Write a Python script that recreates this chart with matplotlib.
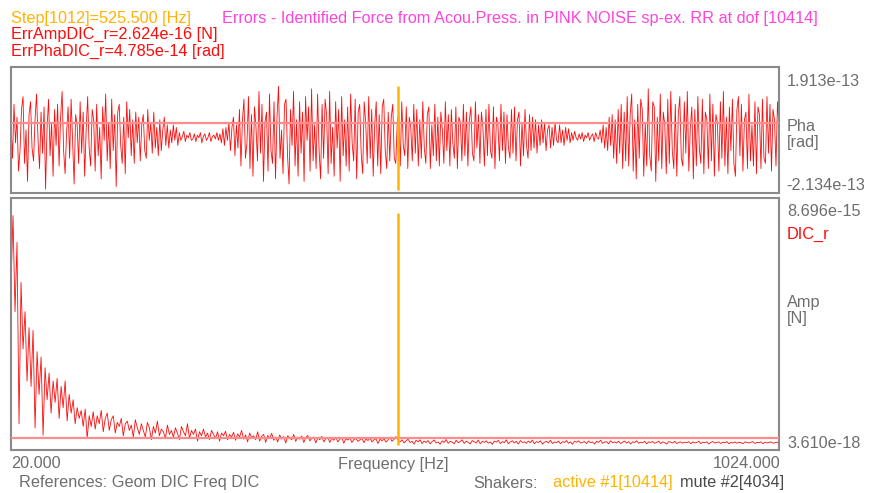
import numpy as np
import matplotlib
matplotlib.use("Agg")
import matplotlib.pyplot as plt

plt.rcParams['font.family'] = ['Liberation Sans', 'DejaVu Sans']

# ---------------- data ----------------
f_min, f_max = 20.0, 1024.0
step_freq = 525.5
pha_max, pha_min = 1.913e-13, -2.134e-13
amp_max, amp_min = 8.696e-15, 3.610e-18
err_amp = 2.624e-16
err_pha = 4.785e-14

# phase error (units of 1e-14 rad)
pha_vals = [
    4, -9, 12, -3, 7, -14, -6, 10, 15, -11, 2, -18, 8, 13, -5, -10,
    6, 16, -2, -13, 9, -7, 11, -21, 3, 14, -8, 5, -16, 10, -4, 12,
    -12, 7, 17, -6, -15, 1, 11, -9, 14, -3, -19, 8, 4, -11, 13, -7,
    9, -16, 2, 15, -5, -12, 10, 6, -14, 12, -8, 3, -17, 11, -2, 16,
    -10, 5, -13, 14, -6, 8, -20, 9, 12, -4, -11, 7, -15, 13, -1, 10,
    -8, 6, -11, 9, -3, 7, -10, 4, 8, -6, -9, 10, -2, 5, -7, 9,
    -5, 3, -8, 6, -6, 2, 7, -4, 4, -5, 2, -3, 4, -2, 3, -4,
    1, -2, -0.5, 1.5, -2.5, 0, -1, 1, -2, -1.5, 0.5, -2.5, 0, -1, 1, -3,
    -0.5, 0.5, -2, -1, 1, -2.5, -0.5, 0, -1.5, 1, -2, 0.5, -3, 2.5, -4, 3,
    -2, 5, -6, 3, 7, -8, 4, -5, 10, -12, 6, 14, -9, -3, 15, -13,
    8, -16, 11, 3, -10, 17, -7, 12, -18, 5, 9, -14, 16, -6, -11, 13,
    -17, 7, 19, -9, 2, -15, 12, 14, -8, -19, 10, -4, 17, -12, 6, -16,
    13, -7, 9, -18, 15, -2, 11, -14, 18, -10, 4, -13, 16, -6, -17, 12,
    -9, 14, 8, -15, 17, -11, 3, -16, 13, -5, 10, -18, 15, -8, 6, -12,
    11, -14, 16, -3, -10, 14, -17, 9, 12, -7, -15, 13, 5, -11, 15, -9,
    10, -16, 4, 13, -12, 8, -15, 11, 14, -6, -13, 9, -10, 7, 12, -9,
    -11, 5, 9, -12, 13, -4, -8, 11, -13, 7, 3, -10, 12, -7, 10, -12,
    6, -9, 13, -5, -11, 8, 11, -13, 4, -8, 12, -10, 7, -12, 9, 2,
    -11, 13, -6, 8, -12, 10, -3, -9, 11, -13, 7, 5, -10, 12, -8, 9,
    -12, 6, 11, -7, -10, 13, -5, 8, -11, 9, 3, -12, 10, -8, 12, -6,
    -9, 11, -13, 7, 4, -10, 12, -6, 9, -11, 8, -5, -9, 10, -7, 11,
    -10, 6, 9, -12, 5, -8, 10, -4, -9, 8, -6, 7, -5, 6, -7, 4,
    -4, 6, -3, 5, -6, 2, 4, -5, 3, -4, 5, -2, -3, 4, -3, 2,
    -4, 3, -2, 2.5, -3, 1, -2, 1.5, -1, -2, 0.5, -1.5, 1, -2.5, 0, -1,
    1, -2, -0.5, 0.5, -2.5, 1, -1, -1.5, 2, -3, 4, -5, 3, -6, 7, -4,
    8, -9, 6, -11, 10, -7, 12, -13, 9, -10, 15, -12, 8, 16, -14, 6,
    -17, 12, -9, 14, 10, -16, 5, -12, 18, -8, -14, 13, 11, -18, 7, -10,
    16, -13, 9, 4, -15, 14, -11, 17, -6, -13, 12, -16, 8, 15, -9, -12,
    13, -7, 17, -14, 3, 11, -17, 10, -12, 15, -5, -11, 14, -15, 9, 6,
    -13, 16, -10, 12, -16, 8, 5, -14, 13, -9, 17, -12, 7, -15, 11, -6,
    14, -11, -16, 10, 15, -8, 12, -14, 6, 9, -13, 16, -10, 4, -12, 13,
    -15, 11, 8, -13, 14, -9, -11, 15, -7, 12, -14, 10, 6, -12, 13, 3,
]

# amplitude error (units of 1e-15 N)
amp_vals = [
    6.0, 8.6, 5.0, 7.6, 0.8, 6.1, 3.6, 5.0, 2.4, 4.4, 2.2, 4.3, 0.64, 3.5, 1.9, 3.3,
    0.37, 2.9, 1.7, 2.7, 1.2, 2.4, 1.6, 2.5, 1.0, 2.2, 1.4, 2.4, 0.9, 1.9, 1.2, 1.7,
    0.8, 1.4, 1.0, 1.3, 0.7, 1.35, 0.26, 1.1, 0.7, 1.25, 0.6, 1.1, 0.8, 1.3, 0.5, 1.0,
    1.2, 0.55, 0.95, 1.1, 0.45, 0.85, 0.7, 1.0, 0.35, 0.8, 0.9, 0.55, 0.75, 0.3, 0.95, 0.65,
    0.4, 0.8, 0.55, 0.3, 0.85, 0.65, 0.2, 0.7, 0.45, 0.9, 0.35, 0.6, 0.5, 0.25, 0.75, 0.4,
    0.55, 0.3, 0.65, 0.45, 0.2, 0.7, 0.5, 0.35, 0.8, 0.25, 0.55, 0.4, 0.6, 0.15, 0.5, 0.35,
    0.6, 0.3, 0.45, 0.2, 0.55, 0.4, 0.25, 0.5, 0.15, 0.45, 0.35, 0.52, 0.2, 0.4, 0.3, 0.48,
    0.18, 0.42, 0.3, 0.55, 0.22, 0.38, 0.12, 0.45, 0.28, 0.35, 0.2, 0.5, 0.15, 0.33, 0.4, 0.1,
    0.36, 0.25, 0.44, 0.18, 0.3, 0.12, 0.38, 0.22, 0.32, 0.08, 0.35, 0.26, 0.2, 0.4, 0.14, 0.3,
    0.22, 0.34, 0.1, 0.28, 0.36, 0.16, 0.25, 0.3, 0.08, 0.27, 0.2, 0.33, 0.12, 0.24, 0.29, 0.1,
    0.26, 0.18, 0.3, 0.12, 0.22, 0.27, 0.07, 0.24, 0.19, 0.28, 0.1, 0.21, 0.25, 0.14, 0.2, 0.26,
    0.09, 0.23, 0.17, 0.27, 0.12, 0.2, 0.24, 0.06, 0.22, 0.16, 0.25, 0.11, 0.19, 0.3, 0.14, 0.22,
    0.32, 0.18, 0.12, 0.2, 0.08, 0.16, 0.22, 0.1, 0.14, 0.04, 0.18, 0.12, 0.2, 0.06, 0.15, 0.1,
    0.17, 0.05, 0.13, 0.19, 0.08, 0.12, 0.03, 0.16, 0.1, 0.21, 0.07, 0.14, 0.11, 0.05, 0.18, 0.09,
    0.13, 0.2, 0.06, 0.15, 0.1, 0.04, 0.17, 0.12, 0.08, 0.19, 0.05, 0.14, 0.1, 0.16, 0.07, 0.12,
    0.03, 0.15, 0.11, 0.18, 0.06, 0.13, 0.09, 0.2, 0.05, 0.12, 0.16, 0.08, 0.14, 0.04, 0.17, 0.1,
    0.12, 0.07, 0.15, 0.09, 0.19, 0.05, 0.13, 0.1, 0.16, 0.04, 0.11, 0.14, 0.08, 0.18, 0.06, 0.12,
    0.09, 0.15, 0.05, 0.13, 0.1, 0.17, 0.07, 0.12, 0.03, 0.14, 0.11, 0.16, 0.08, 0.1, 0.13, 0.06,
    0.15, 0.09, 0.12, 0.04, 0.14, 0.1, 0.18, 0.07, 0.11, 0.13, 0.05, 0.16, 0.09, 0.12, 0.08, 0.14,
    0.06, 0.11, 0.15, 0.08, 0.13, 0.04, 0.12, 0.1, 0.16, 0.07, 0.11, 0.09, 0.14, 0.05, 0.12, 0.1,
    0.13, 0.07, 0.1, 0.15, 0.06, 0.12, 0.09, 0.04, 0.13, 0.11, 0.08, 0.14, 0.06, 0.1, 0.12, 0.07,
    0.11, 0.09, 0.13, 0.05, 0.12, 0.08, 0.1, 0.14, 0.06, 0.11, 0.09, 0.12, 0.04, 0.1, 0.13, 0.08,
    0.1, 0.12, 0.06, 0.11, 0.09, 0.13, 0.05, 0.1, 0.08, 0.12, 0.07, 0.11, 0.09, 0.05, 0.12, 0.1,
    0.08, 0.11, 0.13, 0.06, 0.1, 0.09, 0.12, 0.05, 0.11, 0.08, 0.1, 0.12, 0.07, 0.09, 0.11, 0.06,
]

pha = np.array(pha_vals) * 1e-14
amp = np.array(amp_vals) * 1e-15
f_pha = np.linspace(f_min, f_max, len(pha))
f_amp = np.linspace(f_min, f_max, len(amp))

# ---------------- style ----------------
RED = '#ff0a0a'
SALMON = '#ff8c8c'
ORANGE = '#ffb400'
MAGENTA = '#ff44dd'
GRAY = '#6e6e6e'
DARK = '#4a4a4a'
EDGE = '#8a8a8a'
FS = 11.7

W, H = 869, 493
fig = plt.figure(figsize=(W / 100, H / 100), dpi=100)
fig.patch.set_facecolor('white')


def rect(x0, y0, x1, y1):
    return [x0 / W, 1 - y1 / H, (x1 - x0) / W, (y1 - y0) / H]


def ftext(x, y, s, **kw):
    kw.setdefault('fontsize', FS)
    kw.setdefault('color', GRAY)
    kw.setdefault('va', 'center')
    fig.text(x / W, 1 - y / H, s, **kw)


ax1 = fig.add_axes(rect(11, 67, 779, 193))
ax2 = fig.add_axes(rect(11, 198, 779, 450))

for ax in (ax1, ax2):
    ax.set_xlim(f_min, f_max)
    ax.set_xticks([])
    ax.set_yticks([])
    for sp in ax.spines.values():
        sp.set_color(EDGE)
        sp.set_linewidth(1.5)

# phase panel: data range 1.913e-13 (px 86) .. -2.134e-13 (px 190)
pp = (pha_max - pha_min) / 104.0
ax1.set_ylim(pha_min - 3 * pp, pha_max + 19 * pp)
ax1.plot(f_pha, pha, color=RED, lw=0.6)
ax1.axhline(err_pha, color=SALMON, lw=1.6, zorder=3)
ax1.vlines(step_freq, pha_min, pha_max, color=ORANGE, lw=1.8, zorder=4)

# amplitude panel: data range 8.696e-15 (px 213) .. 3.61e-18 (px 445)
ap = (amp_max - amp_min) / 232.0
ax2.set_ylim(amp_min - 5 * ap, amp_max + 15 * ap)
ax2.plot(f_amp, amp, color=RED, lw=0.6)
ax2.axhline(err_amp, color=SALMON, lw=1.6, zorder=3)
ax2.vlines(step_freq, amp_min, amp_max, color=ORANGE, lw=1.8, zorder=4)

# ---------------- texts ----------------
ftext(11, 18, 'Step[1012]=525.500 [Hz]', color=ORANGE)
ftext(222, 18, 'Errors - Identified Force from Acou.Press. in PINK NOISE sp-ex. RR at dof [10414]', color=MAGENTA)
ftext(11, 34, 'ErrAmpDIC_r=2.624e-16 [N]', color=RED)
ftext(11, 51, 'ErrPhaDIC_r=4.785e-14 [rad]', color=RED)

ftext(787, 81, '1.913e-13')
ftext(787, 127, 'Pha')
ftext(787, 143, '[rad]')
ftext(786, 185, '-2.134e-13')
ftext(787, 211, '8.696e-15')
ftext(787, 234, 'DIC_r', color=RED)
ftext(787, 303, 'Amp')
ftext(787, 319, '[N]')
ftext(787, 443, '3.610e-18')

ftext(11, 464, '20.000')
ftext(393, 464, 'Frequency [Hz]', ha='center')
ftext(780, 464, '1024.000', ha='right')
ftext(19, 483, 'References: Geom DIC Freq DIC')
ftext(473, 483, 'Shakers:')
ftext(553, 483, 'active #1[10414]', color=ORANGE)
ftext(680, 483, 'mute #2[4034]', color=DARK)

fig.savefig('out.png', dpi=100, facecolor='white')
